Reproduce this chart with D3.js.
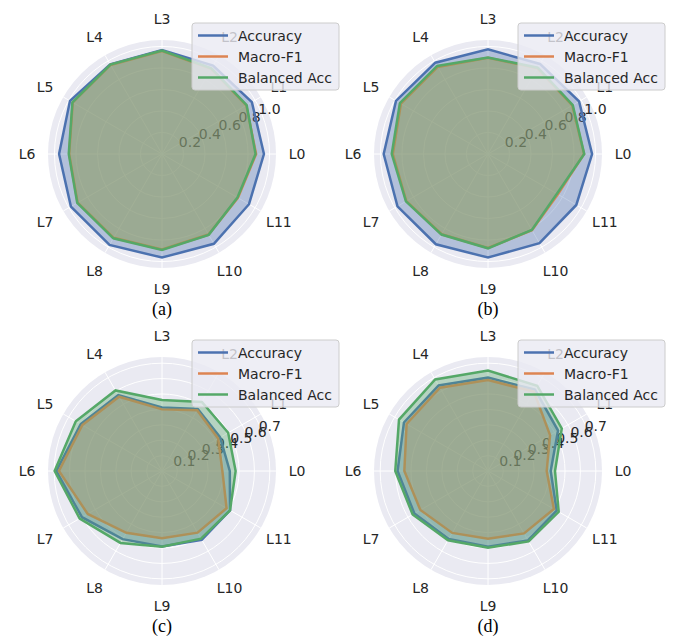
<!DOCTYPE html>
<html><head><meta charset="utf-8">
<script src="https://cdn.jsdelivr.net/npm/d3@7"></script>
<style>html,body{margin:0;padding:0;background:#fff;}svg{display:block;}</style>
</head><body>
<svg id="chart" width="676" height="637"></svg>
<script>
const categories = ["L0","L1","L2","L3","L4","L5","L6","L7","L8","L9","L10","L11"];
const seriesNames = ["Accuracy","Macro-F1","Balanced Acc"];
const ticksAB = [0.2,0.4,0.6,0.8,1.0];
const tickLabelsAB = ["0.2","0.4","0.6","0.8","1.0"];
const ticksCD = [0.1,0.2,0.3,0.4,0.5,0.6,0.7];
const tickLabelsCD = ["0.1","0.2","0.3","0.4","0.5","0.6","0.7"];
const captions = ["(a)","(b)","(c)","(d)"];

const accA = [0.948,0.965,0.95,0.967,0.963,0.988,0.957,0.978,0.976,0.963,0.964,0.934];
const f1A  = [0.875,0.905,0.915,0.958,0.956,0.958,0.863,0.906,0.900,0.888,0.865,0.815];
const balA = [0.870,0.909,0.920,0.962,0.960,0.962,0.867,0.910,0.905,0.892,0.868,0.810];

const accB = [0.968,0.978,0.967,0.973,0.980,0.988,0.970,0.972,0.969,0.963,0.957,0.948];
const f1B  = [0.893,0.905,0.920,0.895,0.935,0.935,0.885,0.877,0.862,0.874,0.818,0.750];
const balB = [0.895,0.910,0.926,0.898,0.945,0.946,0.895,0.881,0.865,0.877,0.815,0.740];

const accC = [0.440,0.436,0.464,0.413,0.568,0.609,0.686,0.600,0.511,0.490,0.516,0.510];
const f1C  = [0.392,0.421,0.456,0.400,0.557,0.597,0.669,0.557,0.463,0.437,0.462,0.484];
const balC = [0.478,0.496,0.518,0.461,0.604,0.646,0.697,0.617,0.539,0.491,0.507,0.510];

const accD = [0.407,0.525,0.610,0.606,0.641,0.630,0.587,0.552,0.510,0.491,0.520,0.515];
const f1D  = [0.381,0.465,0.595,0.590,0.624,0.610,0.543,0.507,0.464,0.440,0.468,0.494];
const balD = [0.435,0.553,0.639,0.652,0.686,0.667,0.602,0.565,0.519,0.498,0.528,0.530];

const colors = ["#4C72B0","#DD8452","#55A868"];

const panels = [
  {cx:162, cy:154, rmax:1.06, ticks:ticksAB, labels:tickLabelsAB, series:[accA,f1A,balA], cap:captions[0]},
  {cx:488, cy:154, rmax:1.06, ticks:ticksAB, labels:tickLabelsAB, series:[accB,f1B,balB], cap:captions[1]},
  {cx:162, cy:471, rmax:0.74, ticks:ticksCD, labels:tickLabelsCD, series:[accC,f1C,balC], cap:captions[2]},
  {cx:488, cy:471, rmax:0.74, ticks:ticksCD, labels:tickLabelsCD, series:[accD,f1D,balD], cap:captions[3]}
];

const R = 114;
const svg = d3.select("#chart");
const font = "DejaVu Sans, sans-serif";
const textCol = "#262626";

const angle = d3.scaleLinear().domain([0, categories.length]).range([Math.PI/2, Math.PI/2 - 2*Math.PI]);

panels.forEach(p => {
  const g = svg.append("g").attr("transform", `translate(${p.cx},${p.cy})`);
  const r = d3.scaleLinear().domain([0, p.rmax]).range([0, R]);

  g.append("circle").attr("r", R).attr("fill", "#EAEAF2");
  g.selectAll("circle.grid").data(p.ticks).enter().append("circle")
    .attr("class","grid").attr("r", d => r(d))
    .attr("fill","none").attr("stroke","#fff").attr("stroke-width",1);
  g.selectAll("line.spoke").data(categories).enter().append("line")
    .attr("x1",0).attr("y1",0)
    .attr("x2",(d,i)=>R*Math.sin(angle(i))).attr("y2",(d,i)=>-R*Math.cos(angle(i)))
    .attr("stroke","#fff").attr("stroke-width",1);
  const la = Math.PI/2 - 22.5*Math.PI/180;
  g.selectAll("text.rtick").data(p.ticks).enter().append("text")
    .attr("x", d => r(d)*Math.sin(la) - 3)
    .attr("y", d => -r(d)*Math.cos(la) + 1)
    .attr("font-family", font).attr("font-size", 14).attr("fill", textCol)
    .text((d,i) => p.labels[i]);

  const line = d3.lineRadial()
    .angle((d,i) => angle(i))
    .radius(d => r(d))
    .curve(d3.curveLinearClosed);

  p.series.forEach((s, k) => {
    g.append("path").attr("d", line(s)).attr("fill","none")
      .attr("stroke", colors[k]).attr("stroke-width", 2.5).attr("stroke-linejoin","miter");
    g.append("path").attr("d", line(s)).attr("fill", colors[k]).attr("fill-opacity", 0.35).attr("stroke","none");
  });

  g.selectAll("text.cat").data(categories).enter().append("text")
    .attr("x",(d,i)=>135*Math.sin(angle(i)))
    .attr("y",(d,i)=>-135*Math.cos(angle(i)))
    .attr("text-anchor","middle").attr("dominant-baseline","central")
    .attr("font-family", font).attr("font-size", 14).attr("fill", textCol)
    .text(d => d);

  const lg = g.append("g").attr("transform", `translate(30,-131)`);
  lg.append("rect").attr("width",147).attr("height",67).attr("rx",3)
    .attr("fill","#EAEAF2").attr("fill-opacity",0.8).attr("stroke","#cccccc").attr("stroke-width",1);
  seriesNames.forEach((n,k) => {
    const y = 12.5 + k*21;
    lg.append("line").attr("x1",6).attr("x2",36).attr("y1",y).attr("y2",y)
      .attr("stroke",colors[k]).attr("stroke-width",2.5);
    lg.append("text").attr("x",46).attr("y",y).attr("dominant-baseline","central")
      .attr("font-family",font).attr("font-size",14).attr("fill",textCol).text(n);
  });

  g.append("text").attr("x",0).attr("y",155).attr("text-anchor","middle")
    .attr("dominant-baseline","central")
    .attr("font-family","Liberation Serif, Times New Roman, serif").attr("font-size",18)
    .attr("fill","#000").text(p.cap);
});
</script>
</body></html>
